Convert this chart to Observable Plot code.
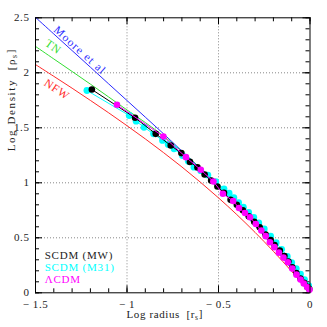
<!DOCTYPE html>
<html><head><meta charset="utf-8">
<script src="https://cdn.jsdelivr.net/npm/d3@7"></script>
<script src="https://cdn.jsdelivr.net/npm/@observablehq/plot@0.6"></script>
<style>body{margin:0;background:#fff}</style>
</head><body><div id="chart"></div>
<script>
// model curves (log radius vs log density)
const curveX = [-1.5,-1.4,-1.3,-1.2,-1.1,-1.0,-0.9,-0.8,-0.7,-0.6,-0.5,-0.4,-0.3,-0.2,-0.1,0];
const mooreY = [2.504,2.353,2.202,2.051,1.899,1.748,1.597,1.445,1.289,1.130,0.964,0.792,0.610,0.419,0.216,0];
const tnY    = [2.240,2.126,2.012,1.897,1.780,1.662,1.548,1.425,1.285,1.135,0.978,0.815,0.640,0.448,0.236,0];
const nfwY   = [2.075,1.968,1.860,1.749,1.636,1.519,1.399,1.274,1.144,1.007,0.863,0.711,0.549,0.377,0.194,0];

// simulations
const mwX = [-1.192,-0.956,-0.843,-0.761,-0.703,-0.656,-0.615,-0.576,-0.540,-0.506,-0.470,-0.434,-0.400,-0.367,-0.335,-0.305,-0.275,-0.243,-0.215,-0.194,-0.165,-0.140,-0.118,-0.097,-0.075,-0.052,-0.032,-0.015,-0.004];
const mwY = [1.848,1.591,1.445,1.339,1.270,1.190,1.140,1.075,1.020,0.966,0.910,0.845,0.800,0.750,0.695,0.645,0.595,0.530,0.480,0.435,0.385,0.335,0.285,0.232,0.180,0.130,0.090,0.055,0.035];
const m31X = [-1.219,-0.988,-0.950,-0.907,-0.855,-0.806,-0.775,-0.743,-0.697,-0.665,-0.634,-0.597,-0.558,-0.515,-0.470,-0.442,-0.416,-0.390,-0.364,-0.335,-0.307,-0.280,-0.250,-0.215,-0.185,-0.155,-0.124,-0.100,-0.075,-0.052,-0.030,-0.007];
const m31Y = [1.839,1.612,1.560,1.505,1.445,1.385,1.348,1.309,1.248,1.195,1.142,1.110,1.070,1.010,0.945,0.905,0.865,0.820,0.778,0.730,0.685,0.635,0.580,0.515,0.455,0.395,0.330,0.275,0.220,0.170,0.120,0.065];
const lcdmX = [-1.055,-0.801,-0.678,-0.597,-0.528,-0.476,-0.420,-0.388,-0.355,-0.328,-0.296,-0.266,-0.242,-0.219,-0.195,-0.170,-0.145,-0.121,-0.097,-0.074,-0.052,-0.034,-0.015,-0.003];
const lcdmY = [1.710,1.421,1.233,1.118,1.012,0.900,0.835,0.771,0.725,0.687,0.625,0.566,0.515,0.460,0.415,0.365,0.320,0.278,0.220,0.165,0.120,0.085,0.050,0.028];

const seriesNames = ["SCDM (MW)", "SCDM (M31)", "ΛCDM"];
const curveNames = ["Moore et al", "TN", "NFW"];
const xTitle = "Log radius  [rs]";
const yTitle = "Log Density  [ρs]";

const xMajor = [-1.5,-1,-0.5,0];
const xMinor = d3.range(-15,1).map(d=>d/10);
const yMajor = [0,0.5,1,1.5,2,2.5];
const yMinor = d3.range(0,26).map(d=>d/10);
const xGridVals = [-1,-0.5];
const yGridVals = [0.5,1,1.5,2];

const W=327,H=327, mL=35, mR=17.5, mT=17.3, mB=34.7;
const fW = W-mL-mR, fH = H-mT-mB;
const font = "'Liberation Serif','Times New Roman',serif";
const rows = (xs, ys) => xs.map((x,i)=>({x, y: ys[i]}));

const colBlue="#2a2aff", colGreen="#33dd33", colRed="#ff2a2a";
const colMW="#000000", colM31="#00ffff", colL="#ff00ff";

const plot = Plot.plot({
  width: W, height: H,
  marginLeft: mL, marginRight: mR, marginTop: mT, marginBottom: mB,
  x: {domain: [-1.5, 0]},
  y: {domain: [0, 2.5]},
  style: {fontFamily: font, fontSize: "11px", color: "#222", background: "#fff"},
  marks: [
    Plot.gridX(xGridVals, {stroke: "#888", strokeOpacity: 1, strokeDasharray: "1,2"}),
    Plot.gridY(yGridVals, {stroke: "#888", strokeOpacity: 1, strokeDasharray: "1,2"}),
    // inward ticks on all four sides
    Plot.tickX(xMinor, {x: d=>d, insetTop: fH-4, stroke: "#000"}),
    Plot.tickX(xMinor, {x: d=>d, insetBottom: fH-4, stroke: "#000"}),
    Plot.tickX(xMajor, {x: d=>d, insetTop: fH-7, stroke: "#000"}),
    Plot.tickX(xMajor, {x: d=>d, insetBottom: fH-7, stroke: "#000"}),
    Plot.tickY(yMinor, {y: d=>d, insetRight: fW-4, stroke: "#000"}),
    Plot.tickY(yMinor, {y: d=>d, insetLeft: fW-4, stroke: "#000"}),
    Plot.tickY(yMajor, {y: d=>d, insetRight: fW-7, stroke: "#000"}),
    Plot.tickY(yMajor, {y: d=>d, insetLeft: fW-7, stroke: "#000"}),
    Plot.axisX(xMajor, {tickSize: 0, tickPadding: 7, label: null,
      tickFormat: d => d === 0 ? "0" : "\u2212 " + Math.abs(d)}),
    Plot.axisY(yMajor, {tickSize: 0, tickPadding: 6, label: null, tickFormat: d => String(d)}),
    // model curves
    Plot.line(rows(curveX, nfwY), {x: "x", y: "y", stroke: colRed, strokeWidth: 1, curve: "catmull-rom", clip: true}),
    Plot.line(rows(curveX, tnY), {x: "x", y: "y", stroke: colGreen, strokeWidth: 1, curve: "catmull-rom", clip: true}),
    Plot.line(rows(curveX, mooreY), {x: "x", y: "y", stroke: colBlue, strokeWidth: 1, curve: "catmull-rom", clip: true}),
    // simulations
    Plot.line(rows(m31X, m31Y), {x: "x", y: "y", stroke: colM31, strokeWidth: 1}),
    Plot.dot(rows(m31X, m31Y), {x: "x", y: "y", r: 3.4, fill: colM31}),
    Plot.line(rows(mwX, mwY), {x: "x", y: "y", stroke: colMW, strokeWidth: 1}),
    Plot.dot(rows(mwX, mwY), {x: "x", y: "y", r: 3.3, fill: colMW}),
    Plot.line(rows(lcdmX, lcdmY), {x: "x", y: "y", stroke: colL, strokeWidth: 1}),
    Plot.dot(rows(lcdmX, lcdmY), {x: "x", y: "y", r: 3.3, fill: colL}),
    // curve labels
    Plot.text([curveNames[0]], {x: -1.257, y: 2.205, text: d=>d, rotate: 42, fill: colBlue, fontSize: 11.5}),
    Plot.text([curveNames[1]], {x: -1.403, y: 2.237, text: d=>d, rotate: 35, fill: colGreen, fontSize: 11.5}),
    Plot.text([curveNames[2]], {x: -1.383, y: 1.848, text: d=>d, rotate: 34, fill: colRed, fontSize: 11.5}),
    // legend
    Plot.text([seriesNames[0]], {x: -1.45, y: 0.339, text: d=>d, textAnchor: "start", fill: "#222", fontSize: 11}),
    Plot.text([seriesNames[1]], {x: -1.45, y: 0.230, text: d=>d, textAnchor: "start", fill: colM31, fontSize: 11}),
    Plot.text([seriesNames[2]], {x: -1.45, y: 0.121, text: d=>d, textAnchor: "start", fill: colL, fontSize: 11}),
    // axis titles
    Plot.text([xTitle], {frameAnchor: "bottom", dy: 25, dx: -8, text: d=>d, fontSize: 11, fill: "#222"}),
    Plot.text([yTitle], {frameAnchor: "left", dx: -24, dy: -4, rotate: -90, text: d=>d, fontSize: 11, fill: "#222"}),
    Plot.frame({stroke: "#000", strokeWidth: 1})
  ]
});

// letter spacing and subscripts
d3.select(plot).selectAll("text").each(function(){
  const t = this.textContent;
  const sel = d3.select(this);
  if (seriesNames.includes(t)) sel.style("letter-spacing", "0.8px");
  if (t === curveNames[0]) sel.style("letter-spacing", "1.2px");
  if (t === curveNames[2] || t === curveNames[1]) sel.style("letter-spacing", "0.8px");
  if (t === yTitle) sel.style("letter-spacing", "1.6px").style("white-space", "pre");
  if (t === xTitle) sel.style("letter-spacing", "0.6px").style("white-space", "pre");
  const m = t.match(/^(.*\[)(ρ|r)s\]$/);
  if (m) {
    sel.text(null);
    sel.append("tspan").text(m[1] + m[2]);
    sel.append("tspan").attr("dy", "0.3em").attr("font-size", "0.7em").text("s");
    sel.append("tspan").attr("dy", "-0.3em").text("]");
  }
});
d3.select(plot).selectAll("g[aria-label='x-axis tick label'] text, g[aria-label='y-axis tick label'] text")
  .style("letter-spacing", "0.6px").style("white-space", "pre");
document.getElementById("chart").appendChild(plot);
</script>
</body></html>
